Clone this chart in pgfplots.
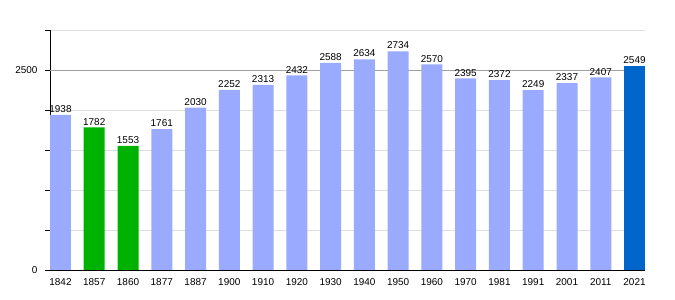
\documentclass[border=0pt]{standalone}
\usepackage{fontspec}
\setmainfont{Liberation Sans}
\usepackage{pgfplots}
\pgfplotsset{compat=1.18}
\definecolor{lb}{RGB}{153,170,255}
\definecolor{gr}{RGB}{0,178,0}
\definecolor{db}{RGB}{0,102,204}
\definecolor{lgrid}{RGB}{222,222,222}
\definecolor{dgrid}{RGB}{160,160,160}
\begin{document}
\begin{tikzpicture}
\begin{axis}[
  name=ax,
  scale only axis, width=595bp, height=240bp,
  xmin=-0.31, xmax=17.31, ymin=0, ymax=3000,
  axis x line*=bottom, axis y line*=left,
  axis line style={black, -, line width=0.9pt},
  xtick={0,...,17},
  xticklabels={1842,1857,1860,1877,1887,1900,1910,1920,1930,1940,1950,1960,1970,1981,1991,2001,2011,2021},
  x tick style={draw=none},
  ytick={0,500,...,3000},
  yticklabels={0,,,,,2500,},
  y tick style={black, line width=0.6pt},
  tick align=outside, major tick length=5bp,
  ymajorgrids, major grid style={lgrid, line width=0.6pt},
  extra y ticks={2500}, extra y tick labels={},
  extra y tick style={major grid style={dgrid, line width=0.7pt}},
  /pgf/number format/assume math mode=true,
  tick label style={font=\fontsize{10}{12}\selectfont, text=black},
  yticklabel style={xshift=-4bp},
  ybar, bar width=21bp,
  nodes near coords,
  nodes near coords style={font=\fontsize{10}{12}\selectfont, text=black, inner sep=2pt, /pgf/number format/fixed, /pgf/number format/1000 sep={}},
]
\addplot[bar shift=0pt, fill=lb, draw=none] coordinates {
 (0,1938) (3,1761) (4,2030) (5,2252) (6,2313) (7,2432) (8,2588) (9,2634)
 (10,2734) (11,2570) (12,2395) (13,2372) (14,2249) (15,2337) (16,2407)};
\addplot[bar shift=0pt, fill=gr, draw=none] coordinates {(1,1782) (2,1553)};
\addplot[bar shift=0pt, fill=db, draw=none] coordinates {(17,2549)};
\end{axis}
\pgfresetboundingbox
\path (ax.south west) ++(-50bp,-30bp) rectangle ++(675bp,300bp);
\end{tikzpicture}
\end{document}
